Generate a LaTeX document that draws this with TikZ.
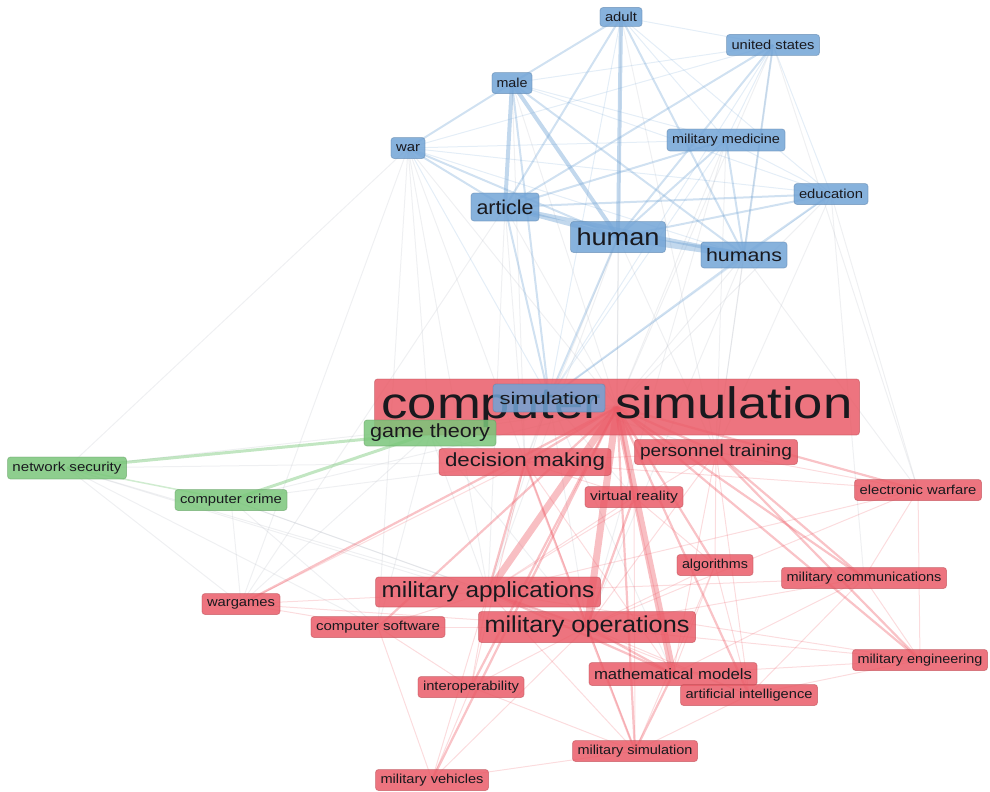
\documentclass[tikz,border=0pt]{standalone}
\usepackage{fontspec}
\setmainfont{Liberation Sans}
\usepackage{graphicx}
\pgfdeclarelayer{edges}
\pgfsetlayers{edges,main}
\definecolor{nblue}{RGB}{114,164,214}
\definecolor{nred}{RGB}{234,92,104}
\definecolor{ngreen}{RGB}{122,198,122}
\definecolor{eblue}{RGB}{120,168,214}
\definecolor{ered}{RGB}{236,78,90}
\definecolor{egreen}{RGB}{120,200,120}
\definecolor{egrey}{RGB}{175,180,190}
\definecolor{txt}{RGB}{25,25,30}
\newcommand\lbl[3]{\resizebox{#2pt}{\height}{\fontsize{#1pt}{#1pt}\selectfont #3}}
\tikzset{
  kw/.style={rounded corners=3pt, inner sep=0pt, text=txt, fill opacity=0.85, text opacity=1, draw opacity=0.5, line width=0.8pt},
  bluekw/.style={kw, fill=nblue, draw=nblue!80!black},
  redkw/.style={kw, fill=nred, draw=nred!80!black},
  greenkw/.style={kw, fill=ngreen, draw=ngreen!80!black},
  sz/.style 2 args={minimum width=#1pt, minimum height=#2pt},
  bthick/.style={draw=eblue, line width=4pt, opacity=0.45},
  bmed/.style={draw=eblue, line width=2pt, opacity=0.35},
  bthin/.style={draw=eblue, line width=1pt, opacity=0.2},
  rthick/.style={draw=ered, line width=7pt, opacity=0.36},
  rmed/.style={draw=ered, line width=2.2pt, opacity=0.34},
  rthin/.style={draw=ered, line width=1pt, opacity=0.2},
  gthick/.style={draw=egreen, line width=3pt, opacity=0.45},
  gthin/.style={draw=egreen, line width=1.5pt, opacity=0.35},
  grey/.style={draw=egrey, line width=1pt, opacity=0.2},
}
\begin{document}
\begin{tikzpicture}[x=1pt,y=-1pt]
\useasboundingbox (0,0) rectangle (990,792);
% red
\node[redkw, sz={485}{56}] (cs) at (617,407) {\lbl{44}{471}{computer simulation}};
\node[redkw, sz={163}{25}] (pt) at (716,452) {\lbl{17}{152}{personnel training}};
\node[redkw, sz={172}{27}] (dm) at (525,462) {\lbl{19}{160}{decision making}};
\node[redkw, sz={98}{21}] (vr) at (634,497) {\lbl{13}{88}{virtual reality}};
\node[redkw, sz={127}{21}] (ew) at (918,490) {\lbl{13}{117}{electronic warfare}};
\node[redkw, sz={76}{21}] (alg) at (715,565) {\lbl{13}{66}{algorithms}};
\node[redkw, sz={165}{21}] (mc) at (864,578) {\lbl{13}{155}{military communications}};
\node[redkw, sz={225}{30}] (ma) at (488,592) {\lbl{22}{213}{military applications}};
\node[redkw, sz={78}{21}] (wg) at (241,604) {\lbl{13}{68}{wargames}};
\node[redkw, sz={134}{21}] (csw) at (378,627) {\lbl{13}{124}{computer software}};
\node[redkw, sz={217}{31}] (mo) at (587,627) {\lbl{23}{205}{military operations}};
\node[redkw, sz={135}{21}] (me) at (920,660) {\lbl{13}{125}{military engineering}};
\node[redkw, sz={168}{23}] (mm) at (673,674) {\lbl{15}{158}{mathematical models}};
\node[redkw, sz={137}{21}] (ai) at (749,695) {\lbl{13}{127}{artificial intelligence}};
\node[redkw, sz={106}{21}] (interop) at (471,687) {\lbl{13}{96}{interoperability}};
\node[redkw, sz={125}{21}] (msim) at (635,751) {\lbl{13}{115}{military simulation}};
\node[redkw, sz={113}{21}] (mv) at (432,780) {\lbl{13}{103}{military vehicles}};
% blue
\node[bluekw, sz={42}{19}] (adult) at (621,17) {\lbl{13}{32}{adult}};
\node[bluekw, sz={93}{21}] (us) at (773,45) {\lbl{13}{83}{united states}};
\node[bluekw, sz={40}{21}] (male) at (512,83) {\lbl{13}{31}{male}};
\node[bluekw, sz={34}{21}] (war) at (408,148) {\lbl{13}{24}{war}};
\node[bluekw, sz={118}{22}] (milmed) at (726,140) {\lbl{13}{108}{military medicine}};
\node[bluekw, sz={74}{21}] (edu) at (831,194) {\lbl{13}{64}{education}};
\node[bluekw, sz={68}{28}] (article) at (505,207) {\lbl{20}{57}{article}};
\node[bluekw, sz={95}{31}] (human) at (618,237) {\lbl{24}{83}{human}};
\node[bluekw, sz={86}{26}] (humans) at (744,255) {\lbl{18}{76}{humans}};
\node[bluekw, sz={112}{28}] (simb) at (549,398) {\lbl{17}{99}{simulation}};
% green
\node[greenkw, sz={132}{26}] (gt) at (430,433) {\lbl{19}{120}{game theory}};
\node[greenkw, sz={119}{22}] (ns) at (67,468) {\lbl{13}{109}{network security}};
\node[greenkw, sz={112}{21}] (cc) at (231,500) {\lbl{13}{102}{computer crime}};

\begin{pgfonlayer}{edges}
% grey inter-cluster
\foreach \a/\b in {human/cs, article/cs, humans/cs, war/cs, war/dm, war/wg, war/ma, male/cs, male/dm, adult/cs, us/cs, us/pt, milmed/pt, milmed/cs, edu/pt, edu/ew, edu/cs, humans/pt, humans/ew, human/dm, human/ma, article/ma, article/dm, simb/cs, simb/ma, simb/mo, simb/dm, gt/cs, gt/dm, gt/ma, gt/mo, ns/cs, ns/dm, ns/ma, ns/wg, ns/csw, ns/mo, cc/cs, cc/ma, cc/mo, cc/wg, cc/csw, cc/dm, gt/wg, war/gt, war/ns, war/csw, article/wg, humans/mo, human/pt, edu/mc, us/ew, adult/pt, milmed/mo, simb/pt, simb/vr, simb/mm, gt/csw}
  \draw[grey] (\a.center) -- (\b.center);
% blue
\foreach \a/\b in {adult/us, adult/milmed, adult/edu, male/us, male/milmed, male/edu, war/milmed, war/humans, war/edu, us/milmed, us/edu, milmed/edu, us/war, simb/adult, simb/war, simb/us, simb/milmed, simb/edu}
  \draw[bthin] (\a.center) -- (\b.center);
\foreach \a/\b in {adult/male, adult/article, adult/humans, war/article, war/human, male/war, male/humans, us/article, us/human, us/humans, milmed/human, milmed/humans, milmed/article, edu/human, edu/humans, edu/article, simb/article, simb/human, simb/humans, simb/male}
  \draw[bmed] (\a.center) -- (\b.center);
\foreach \a/\b in {article/human, article/humans, male/human, male/article, adult/human}
  \draw[bthick] (\a.center) -- (\b.center);
\draw[bthick, line width=7pt] (human.center) -- (humans.center);
% red
\foreach \a/\b in {pt/ew, pt/ma, pt/mo, pt/mm, pt/alg, pt/ai, vr/ma, vr/mm, vr/alg, alg/mo, alg/mm, alg/ai, mc/me, mc/mo, mc/ma, mc/ai, mc/ew, ew/me, ew/ma, ew/mo, ew/dm, me/mo, me/ma, me/mm, me/ai, wg/ma, wg/mo, wg/csw, wg/dm, csw/mo, csw/ma, csw/interop, interop/mo, interop/ma, interop/mv, interop/msim, mv/ma, mv/mo, mv/msim, mv/csw, msim/ma, msim/ai, ai/mo, ai/ma, dm/pt, dm/vr, dm/interop, dm/msim, dm/mm, vr/msim, alg/msim, mc/mm}
  \draw[rthin] (\a.center) -- (\b.center);
\foreach \a/\b in {cs/dm, cs/pt, cs/vr, cs/msim, cs/interop, cs/mv, cs/alg, cs/mc, cs/ai, cs/csw, cs/wg, cs/me, cs/ew, ma/mo, mo/mm, ma/mm, pt/mc, pt/me, dm/mo, dm/ma, vr/mo, mo/msim, mm/msim}
  \draw[rmed] (\a.center) -- (\b.center);
\foreach \a/\b in {cs/ma, cs/mo, cs/mm}
  \draw[rthick] (\a.center) -- (\b.center);
% green
\draw[gthick] (gt.center) -- (ns.center);
\draw[gthick] (gt.center) -- (cc.center);
\draw[gthin] (ns.center) -- (cc.center);
\end{pgfonlayer}
\end{tikzpicture}
\end{document}
